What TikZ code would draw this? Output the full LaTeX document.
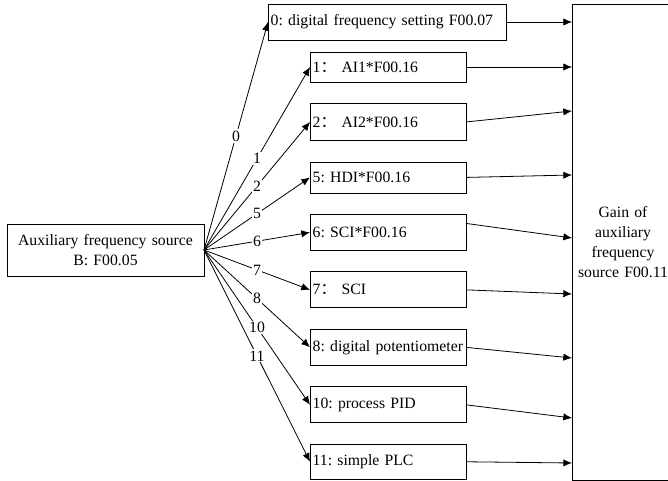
\documentclass[tikz,border=0pt]{standalone}
\usepackage{fontspec}
\setmainfont{Liberation Serif}
\newfontfamily\cjk{Noto Sans CJK SC}
\usepackage{tikz}
\usetikzlibrary{arrows.meta, positioning}
\tikzstyle{blk} = [draw, rectangle, line width=0.6pt, inner sep=2pt, outer sep=0pt,
   font=\fontsize{11.8}{15}\selectfont\frenchspacing]
\tikzstyle{src} = [blk, text width=113pt, align=left, minimum height=27pt]
\tikzstyle{sel} = [line width=0.6pt, -{Latex[length=6.5pt,width=5.5pt]}]
\tikzstyle{num} = [midway, fill=white, inner sep=1pt,
   font=\fontsize{11.8}{15}\selectfont]

\begin{document}
\begin{tikzpicture}[x=0.75pt, y=-0.75pt]
  \clip (0,0) rectangle (668,481);
  \node[blk, text width=143.75pt, align=center, minimum height=39pt] (aux) at (105.5,250) {Auxiliary frequency source\\B: F00.05};
  \node[blk, text width=174.5pt, align=left, minimum height=27pt] (s0) at (387,22) {0: digital frequency setting F00.07};
  \node[src, minimum height=22.5pt, anchor=north west] (s1) at (310,52) {1{\cjk ：} AI1*F00.16};
  \node[src, minimum height=27.75pt, below=16.1pt of s1] (s2) {2{\cjk ：} AI2*F00.16};
  \node[src, minimum height=23.25pt, below=16.1pt of s2] (s5) {5: HDI*F00.16};
  \node[src, below=16.1pt of s5] (s6) {6: SCI*F00.16};
  \node[src, below=16.1pt of s6] (s7) {7{\cjk ：} SCI};
  \node[src, below=16.1pt of s7] (s8) {8: digital potentiometer};
  \node[src, below=16.1pt of s8] (s10) {10: process PID};
  \node[src, minimum height=26.25pt, below=16.1pt of s10] (s11) {11: simple PLC};
  \node[blk, text width=72.5pt, align=center, minimum height=357pt] (gain) at (623,242) {Gain of\\auxiliary\\frequency\\source F00.11};

  % tips on the gain block
  \coordinate (g0) at (572,22);
  \coordinate (g1) at (572,67);
  \coordinate (g2) at (572,111);
  \coordinate (g5) at (572,175);
  \coordinate (g6) at (572,238);
  \coordinate (g7) at (572,294);
  \coordinate (g8) at (572,358);
  \coordinate (g10) at (572,418);
  \coordinate (g11) at (572,463);

  % selection arrows
  \draw[sel] (aux.east) -- (s0.west) node[num] {0};
  \draw[sel] (aux.east) -- (s1.west) node[num] {1};
  \draw[sel] (aux.east) -- (s2.west) node[num] {2};
  \draw[sel] (aux.east) -- (s5.west) node[num] {5};
  \draw[sel] (aux.east) -- (s6.west) node[num] {6};
  \draw[sel] (aux.east) -- (s7.west) node[num] {7};
  \draw[sel] (aux.east) -- (s8.west) node[num] {8};
  \draw[sel] (aux.east) -- (s10.west) node[num] {10};
  \draw[sel] (aux.east) -- (s11.west) node[num] {11};

  % outputs into the gain block
  \draw[sel] (s0.east) -- (g0);
  \draw[sel] (s1.east) -- (g1);
  \draw[sel] (s2.east) -- (g2);
  \draw[sel] (s5.east) -- (g5);
  \draw[sel] ([yshift=6.75pt]s6.east) -- (g6);
  \draw[sel] (s7.east) -- (g7);
  \draw[sel] (s8.east) -- (g8);
  \draw[sel] (s10.east) -- (g10);
  \draw[sel] (s11.east) -- (g11);
\end{tikzpicture}
\end{document}
